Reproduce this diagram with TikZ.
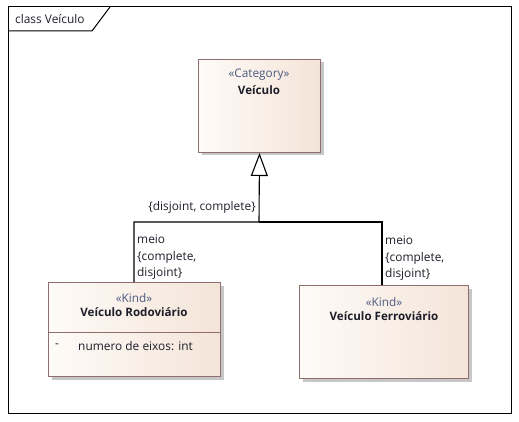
\documentclass[tikz,border=0pt]{standalone}
\usepackage{fontspec}
\setmainfont{Open Sans}
\usetikzlibrary{arrows.meta,positioning,shadows}
\definecolor{boxlight}{HTML}{FEFBF8}
\definecolor{boxdark}{HTML}{F4E4D8}
\definecolor{boxline}{HTML}{8E6E6E}
\definecolor{stereo}{HTML}{4C5A80}
\definecolor{ink}{HTML}{1E1E2A}
\tikzset{
  umlbox/.style={draw=boxline,line width=1pt,left color=boxlight,right color=boxdark,
    inner sep=0pt,anchor=north west,
    general shadow={fill=black!22,shadow xshift=3pt,shadow yshift=-3pt}},
  stereotxt/.style={text=stereo,inner sep=0pt,font=\fontsize{11.8}{14}\selectfont},
  nametxt/.style={text=ink,inner sep=0pt,font=\fontsize{11.6}{14}\selectfont\bfseries},
  tagtxt/.style={text=ink,inner sep=1pt,align=left,font=\fontsize{11.9}{16.5}\selectfont},
  genline/.style={line width=1.1pt,-{Triangle[open,fill=white,length=23pt,width=17pt,line width=1.1pt]}}
}
\begin{document}
\begin{tikzpicture}[x=1pt,y=-1pt]
\useasboundingbox (0,0) rectangle (519,422);
% frame
\draw[line width=1pt] (8,7) rectangle (511,413);
\draw[line width=1pt] (8,31) -- (92,31) -- (110,7);
\node[tagtxt,anchor=west] (frametitle) at (14,19) {class Veículo};
% classes
\node[umlbox,minimum width=122pt,minimum height=93pt] (veiculo) at (198,59) {};
\node[stereotxt] (veiculoS) at (259,75) {«Category»};
\node[nametxt,below=5pt of veiculoS] (veiculoN) {Veículo};
\node[umlbox,minimum width=172pt,minimum height=94pt] (rodo) at (48,282) {};
\node[stereotxt] (rodoS) at (134,298) {«Kind»};
\node[nametxt,below=5pt of rodoS] (rodoN) {Veículo Rodoviário};
\draw[boxline,line width=1pt] (rodo.west |- 0,332) -- (rodo.east |- 0,332);
\node[tagtxt,anchor=west] (rodoA) at (54,346) {-};
\node[tagtxt,anchor=west] (rodoB) at (77,346) {numero de eixos: int};
\node[umlbox,minimum width=169pt,minimum height=93pt] (ferro) at (299,285) {};
\node[stereotxt] (ferroS) at (384,302) {«Kind»};
\node[nametxt,below=5pt of ferroS] (ferroN) {Veículo Ferroviário};
% generalization set
\coordinate (junction) at (259,222);
\draw[genline] (rodo.north -| 134,0) |- (junction) -- (veiculo.south);
\draw[line width=1.1pt] (ferro.north -| 382,0) |- (junction);
\node[tagtxt,anchor=east] (gset) at (257,207) {\{disjoint, complete\}};
\node[tagtxt,fill=white,anchor=north west] (rodoT) at (136,234) {meio\\\{complete,\\disjoint\}};
\node[tagtxt,fill=white,anchor=north west] (ferroT) at (384,235) {meio\\\{complete,\\disjoint\}};
\end{tikzpicture}
\end{document}
